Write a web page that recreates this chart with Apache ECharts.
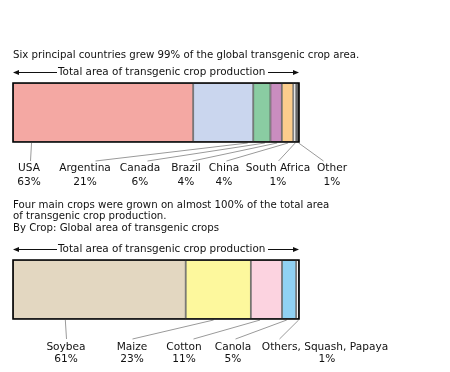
<!DOCTYPE html>
<html><head><meta charset="utf-8">
<script src="https://cdn.jsdelivr.net/npm/echarts@6/dist/echarts.min.js"></script>
<style>html,body{margin:0;padding:0;background:#fff}#c{width:450px;height:372px}</style>
</head><body><div id="c"></div>
<script>
// ---- data ----
const countries = ['USA', 'Argentina', 'Canada', 'Brazil', 'China', 'South Africa', 'Other'];
const countryShare = [63, 21, 6, 4, 4, 1, 1];
const crops = ['Soybea', 'Maize', 'Cotton', 'Canola', 'Others, Squash, Papaya'];
const cropShare = [61, 23, 11, 5, 1];
const title1 = 'Six principal countries grew 99% of the global transgenic crop area.';
const title2 = ['Four main crops were grown on almost 100% of the total area',
                'of transgenic crop production.',
                'By Crop: Global area of transgenic crops'];
const arrowText = 'Total area of transgenic crop production';

// ---- styles / layout ----
const countryColors = ['#f4a8a3', '#cad6ee', '#8acca2', '#c98dbf', '#fccd8c', '#ffffff', '#666666'];
const cropColors = ['#e3d7c1', '#fdf89d', '#fcd3e0', '#90d1f3', '#ffffff'];
const FAM = '"DejaVu Sans", Verdana, sans-serif';
const TITLE_FONT = '10.2px ' + FAM;
const ARROW_FONT = '10.4px ' + FAM;
const LABEL_FONT = '10.6px ' + FAM;
const BAR_L = 13, BAR_W = 286, BAR_H = 59;
const BAR1_T = 83, BAR2_T = 260;
const countryLabelX = [29, 85, 140, 186, 224, 278, 332];
const countryLineX = [30, 95, 147, 192, 226, 278, 323];
const countryAnchorFrac = [0.1, 0.9, 0.65, 0.55, 0.5, 0.5, 0.7];
const cropLabelX = [66, 132, 184, 233, 325];
const cropPctX = [66, 132, 184, 233, 327];
const cropLineX = [66, 132, 193, 235, 279];
const cropAnchorFrac = [0.3, 0.42, 0.28, 0.3, 0.7];

const chart = echarts.init(document.getElementById('c'), null, {renderer: 'canvas'});
const sum = a => a.reduce((s, v) => s + v, 0);

function barSeries(vals, colors, idx) {
  return vals.map((v, i) => ({
    type: 'bar', xAxisIndex: idx, yAxisIndex: idx, stack: 's' + idx,
    data: [v], barWidth: '100%', silent: true,
    itemStyle: {color: colors[i], borderColor: '#555', borderWidth: 0.8}
  }));
}

chart.setOption({
  animation: false,
  grid: [
    {left: BAR_L, top: BAR1_T, width: BAR_W, height: BAR_H},
    {left: BAR_L, top: BAR2_T, width: BAR_W, height: BAR_H}
  ],
  xAxis: [
    {type: 'value', gridIndex: 0, min: 0, max: sum(countryShare), show: false},
    {type: 'value', gridIndex: 1, min: 0, max: sum(cropShare), show: false}
  ],
  yAxis: [
    {type: 'category', gridIndex: 0, data: ['countries'], show: false},
    {type: 'category', gridIndex: 1, data: ['crops'], show: false}
  ],
  series: barSeries(countryShare, countryColors, 0).concat(barSeries(cropShare, cropColors, 1))
});

const g = [];
function txt(s, x, y, align, font) {
  g.push({type: 'text', z: 50, style: {text: s, x: x, y: y, font: font || LABEL_FONT, fill: '#111',
    align: align || 'left', verticalAlign: 'middle'}});
}
function line(x1, y1, x2, y2, color, w) {
  g.push({type: 'line', z: 40, shape: {x1: x1, y1: y1, x2: x2, y2: y2},
    style: {stroke: color, lineWidth: w || 1}});
}
function arrowRow(y) {
  line(16, y + 0.5, 57, y + 0.5, '#111', 1);
  g.push({type: 'polygon', z: 40, shape: {points: [[13, y + 0.5], [19, y - 2], [19, y + 3]]}, style: {fill: '#111'}});
  txt(arrowText, 58, y, 'left', ARROW_FONT);
  line(268, y + 0.5, 296, y + 0.5, '#111', 1);
  g.push({type: 'polygon', z: 40, shape: {points: [[299, y + 0.5], [293, y - 2], [293, y + 3]]}, style: {fill: '#111'}});
}

txt(title1, 13, 55, 'left', TITLE_FONT);
arrowRow(72);
title2.forEach((t, i) => txt(t, 13, 205 + i * 11.7, 'left', TITLE_FONT));
arrowRow(249);

function labelsAndLeaders(names, vals, idx, labelX, pctX, lineX, frac, nameY, pctY, lineTopY) {
  let cum = 0;
  const cat = idx === 0 ? 'countries' : 'crops';
  names.forEach((n, i) => {
    const v = cum + vals[i] * frac[i];
    const px = chart.convertToPixel({xAxisIndex: idx}, v);
    const centerY = chart.convertToPixel({yAxisIndex: idx}, cat);
    const bottom = centerY + BAR_H / 2;
    line(lineX[i] + 0.5, lineTopY, px + 0.5, bottom + 1, '#9a9a9a', 1);
    txt(n, labelX[i], nameY, 'center');
    txt(vals[i] + '%', pctX[i], pctY, 'center');
    cum += vals[i];
  });
}
labelsAndLeaders(countries, countryShare, 0, countryLabelX, countryLabelX, countryLineX, countryAnchorFrac, 168, 182, 161);
labelsAndLeaders(crops, cropShare, 1, cropLabelX, cropPctX, cropLineX, cropAnchorFrac, 347, 359, 339);

// outer frames
[BAR1_T, BAR2_T].forEach(t => {
  g.push({type: 'rect', z: 60, shape: {x: BAR_L, y: t, width: BAR_W, height: BAR_H},
    style: {fill: 'none', stroke: '#000', lineWidth: 1.6}});
});

chart.setOption({graphic: g});
</script></body></html>
